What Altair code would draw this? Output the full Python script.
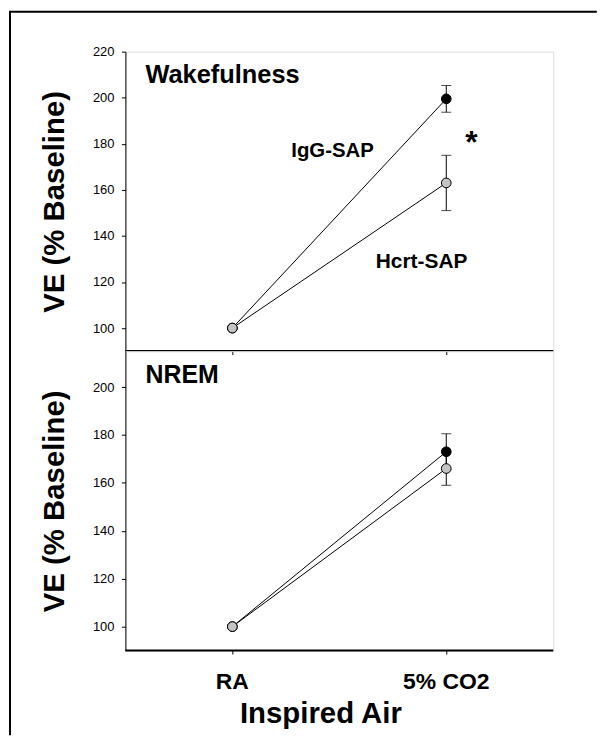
import altair as alt
import pandas as pd

# ---- data ----
groups = ["IgG-SAP", "Hcrt-SAP"]
conditions = ["RA", "5% CO2"]

wake_igg = [100, 199.5]
wake_igg_err = [0, 5.8]
wake_hcrt = [100, 163]
wake_hcrt_err = [0, 12]

nrem_igg = [100, 173]
nrem_igg_err = [0, 7.5]
nrem_hcrt = [100, 166]
nrem_hcrt_err = [0, 7]

wake_ticks = [100, 120, 140, 160, 180, 200, 220]
nrem_ticks = [100, 120, 140, 160, 180, 200]
wake_domain = [90, 220]
nrem_domain = [90, 215]

group_fill = ["#000000", "#c4c4c4"]

FONT = "Liberation Sans"
W = 430
H_TOP = 301
H_BOT = 301
LEFT = -116     # frame line, relative to plot origin
TOP = -40


def make_df(igg, igg_err, hcrt, hcrt_err):
    rows = []
    for gi, (g, vals, errs) in enumerate([(groups[0], igg, igg_err), (groups[1], hcrt, hcrt_err)]):
        for c, v, e in zip(conditions, vals, errs):
            rows.append({"group": g, "gi": gi, "cond": c, "value": v, "err": e,
                         "lo": v - e, "hi": v + e})
    return pd.DataFrame(rows)


def one_row():
    return pd.DataFrame({"k": [0]})


def panel(df, ydom, yticks, h, bottom, texts):
    xaxis = alt.Axis(
        labels=bottom, ticks=True, tickSize=4, tickColor="black", domainColor="black",
        domainWidth=2, translate=0, grid=False, labelAngle=0, labelFont=FONT, labelFontSize=23,
        labelFontWeight="bold", labelColor="black", labelBaseline="alphabetic",
        labelPadding=35, titleFont=FONT, titleFontSize=29.5, titleFontWeight="bold",
        titleColor="black", titleX=196.5, titleY=73, titleAlign="center",
        titleBaseline="alphabetic",
    )
    xtitle = "Inspired Air" if bottom else None
    x = alt.X("cond:N", scale=alt.Scale(type="point", padding=0.5, domain=conditions),
              axis=xaxis, title=xtitle)
    yaxis = alt.Axis(
        values=yticks, tickSize=4, tickColor="black", domainColor="black", grid=False,
        labelFont=FONT, labelFontSize=13, labelColor="black", labelPadding=7.5,
        titleFont=FONT, titleFontSize=29.5, titleFontWeight="bold", titleColor="black",
        titleX=-71, titleY=h / 2, titleAlign="center", titleBaseline="middle",
    )
    yscale = alt.Scale(domain=ydom, nice=False, zero=False)

    def Y(field):
        return alt.Y(field, scale=yscale, axis=yaxis, title="VE (% Baseline)")

    base = alt.Chart(df)
    lines = base.mark_line(color="black", strokeWidth=1).encode(
        x=x, y=Y("value:Q"), detail="group:N")
    errdf = base.transform_filter("datum.err > 0")
    bars = errdf.mark_rule(color="black", strokeWidth=1).encode(
        x=x, y=Y("lo:Q"), y2="hi:Q")
    cap_lo = errdf.mark_tick(color="black", thickness=1, size=10).encode(x=x, y=Y("lo:Q"))
    cap_hi = errdf.mark_tick(color="black", thickness=1, size=10).encode(x=x, y=Y("hi:Q"))
    pts = base.mark_circle(size=95, stroke="black", strokeWidth=1, opacity=1).encode(
        x=x, y=Y("value:Q"),
        color=alt.Color("group:N", scale=alt.Scale(domain=groups, range=group_fill), legend=None),
        order=alt.Order("gi:Q"),
    )
    layers = [lines, bars, cap_lo, cap_hi, pts]
    for t, px, py, size, align in texts:
        layers.append(
            alt.Chart(pd.DataFrame({"t": [t]})).mark_text(
                font=FONT, fontSize=size, fontWeight="bold", color="black",
                align=align, baseline="alphabetic",
            ).encode(text="t:N", x=alt.value(px), y=alt.value(py))
        )
    return alt.layer(*layers).properties(width=W, height=h)


wake = make_df(wake_igg, wake_igg_err, wake_hcrt, wake_hcrt_err)
nrem = make_df(nrem_igg, nrem_igg_err, nrem_hcrt, nrem_hcrt_err)

top = panel(wake, wake_domain, wake_ticks, H_TOP, False, [
    ("Wakefulness", 20.2, 31.7, 25.5, "left"),
    ("IgG-SAP", 208.2, 105.7, 20.5, "center"),
    ("Hcrt-SAP", 297.7, 217.4, 21, "center"),
    ("*", 347.7, 102.3, 32, "center"),
])
# frame lines (top and left edge of the figure)
frame_top = alt.Chart(one_row()).mark_rule(color="black", strokeWidth=2, strokeCap="square").encode(
    x=alt.value(LEFT), x2=alt.value(472.8), y=alt.value(TOP))
frame_left_top = alt.Chart(one_row()).mark_rule(color="black", strokeWidth=2).encode(
    x=alt.value(LEFT), y=alt.value(TOP), y2=alt.value(H_TOP))
top = alt.layer(top, frame_top, frame_left_top)

bot = panel(nrem, nrem_domain, nrem_ticks, H_BOT, True, [
    ("NREM", 20.2, 32.0, 25, "left"),
])
frame_left_bot = alt.Chart(one_row()).mark_rule(color="black", strokeWidth=2).encode(
    x=alt.value(LEFT), y=alt.value(0), y2=alt.value(386))
bot = alt.layer(bot, frame_left_bot)

chart = alt.vconcat(top, bot, spacing=0, bounds="flush").properties(
    padding=0
).configure_view(stroke=None).configure(background="white")

chart.save("out.html", embed_options={"renderer": "svg", "actions": False})
